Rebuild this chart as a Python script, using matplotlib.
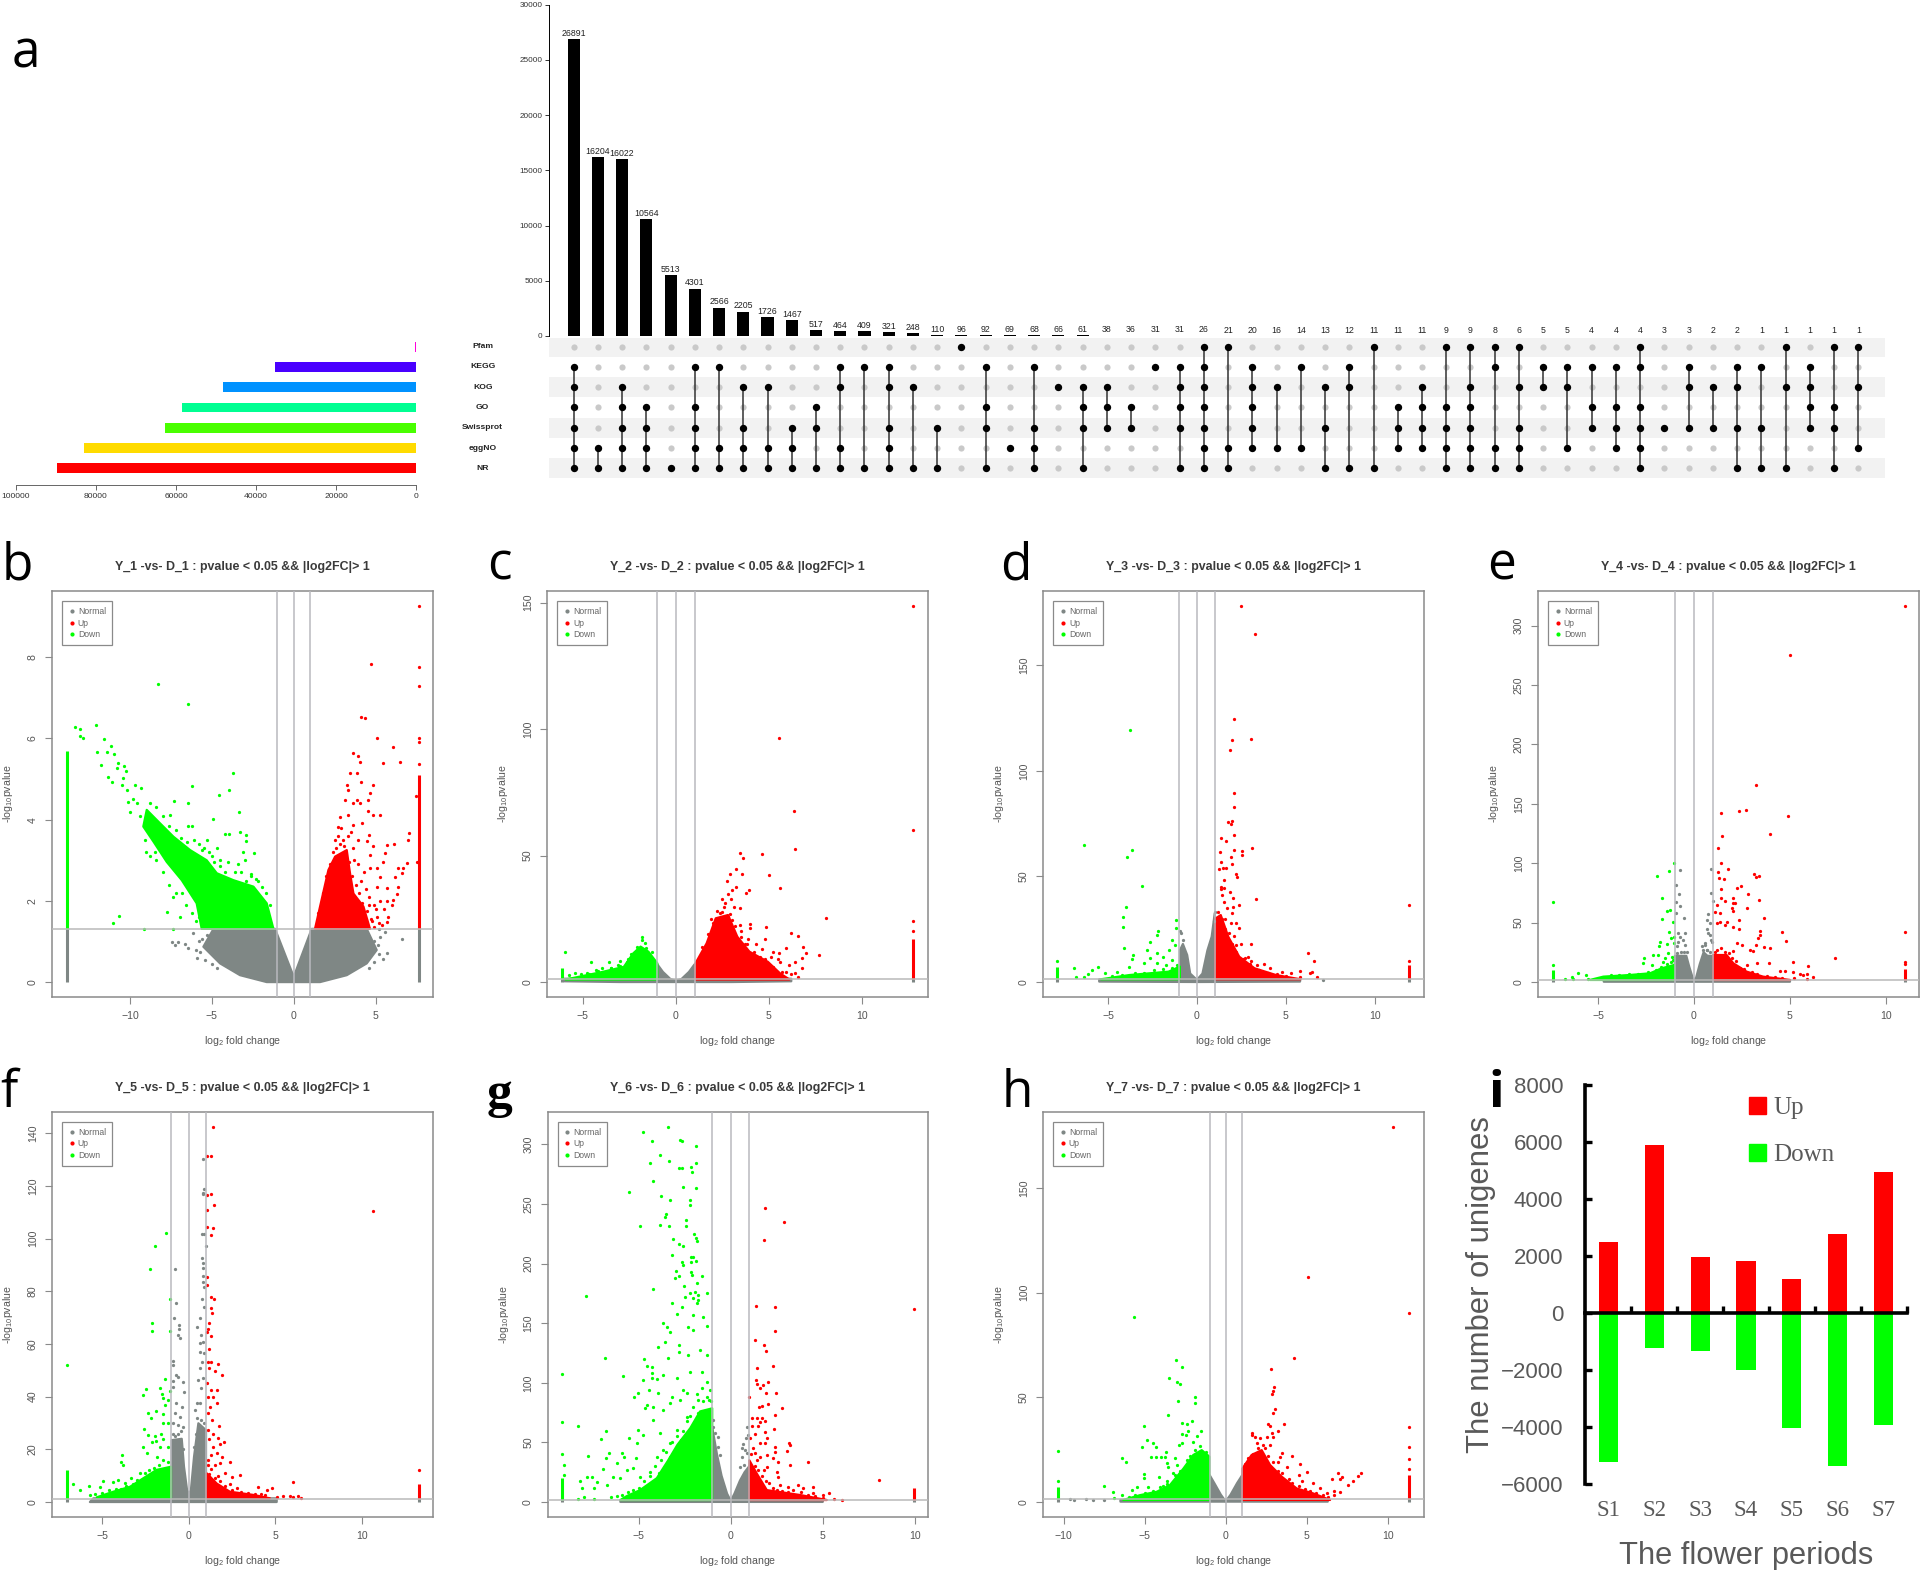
import matplotlib
matplotlib.use('Agg')
import matplotlib.pyplot as plt
from matplotlib.lines import Line2D
from matplotlib.patches import Polygon, Patch

plt.rcParams['font.family'] = ['Liberation Sans', 'DejaVu Sans']
plt.rcParams['mathtext.default'] = 'regular'

W, H = 1920, 1570
GRAY = '#7f8785'
RED = '#ff0000'
GREEN = '#00ff00'

# ---- panel a: annotation sets
set_names = ['NR', 'eggNO', 'Swissprot', 'GO', 'KOG', 'KEGG', 'Pfam']
set_sizes = [89825, 83080, 62750, 58580, 48170, 35250, 250]
set_colors = ['#FF0000', '#FFDB00', '#49FF00', '#00FF92', '#0092FF', '#4900FF', '#FF00DB']
intersection_sizes = [26891, 16204, 16022, 10564, 5513, 4301, 2566, 2205, 1726, 1467,
                      517, 464, 409, 321, 248, 110, 96, 92, 69, 68, 66, 61, 38, 36, 31, 31,
                      26, 21, 20, 16, 14, 13, 12, 11, 11, 11, 9, 9, 8, 6, 5, 5, 4, 4, 4,
                      3, 3, 2, 2, 1, 1, 1, 1, 1]
# Which sets each intersection column contains
P, K, O, G, S, E, N = 'Pfam', 'KEGG', 'KOG', 'GO', 'Swissprot', 'eggNO', 'NR'
memberships = [
    [K, O, G, S, E, N], [E, N], [O, G, S, E, N], [G, S, E, N], [N], [K, G, S, E, N],
    [K, E, N], [O, S, E, N], [O, E, N], [S, E, N], [G, S, N], [K, O, E, N], [K, N],
    [K, O, S, E, N], [O, N], [S, N], [P], [K, G, S, N], [E], [K, S, E, N], [O],
    [O, G, S, N], [O, G, S], [G, S], [K], [K, O, G, S, N], [P, K, O, G, S, E, N],
    [P, E, N], [K, O, G, S, E], [O, E], [K, E], [O, S, N], [K, O, N], [P, N], [G, S, E],
    [O, G, S, E], [P, G, S, E, N], [P, O, G, S, E, N], [P, K, E, N], [P, O, S, E, N],
    [K, O], [K, O, E], [K, G, S], [K, G, S, E], [P, K, G, S, E, N], [S], [K, O, S],
    [O, S], [K, O, S, N], [K, S, N], [P, O, N], [K, O, G, S], [P, G, S, N], [P, O, E],
]

# ---- panels b-h: volcano plots. Clouds are outlines of the solid regions,
# the point lists are the dots that can be told apart.
b_normal_cloud = [(-4.9, 1.31), (-1.14, 1.31), (0, .13), (1.1, 1.31), (4.46, 1.31), (5.07, .79), (4.46, .46),
                  (3.24, .17), (1.61, 0), (-1.65, 0), (-3.28, .17), (-4.5, .46), (-5.52, .87)]
b_up_cloud = [(1.3, 1.31), (1.61, 1.86), (2.12, 2.76), (2.53, 3.09), (3.24, 3.25), (3.44, 2.68), (3.65, 2.18),
              (4.26, 1.86), (4.66, 1.31)]
b_down_cloud = [(-1.24, 1.31), (-1.65, 1.94), (-2.46, 2.35), (-3.69, 2.51), (-4.7, 2.68), (-5.32, 3.0), (-6.33, 3.25),
                (-7.35, 3.58), (-8.17, 3.91), (-8.98, 4.24), (-9.19, 3.83), (-8.57, 3.46), (-7.76, 2.96), (-6.84, 2.51),
                (-5.93, 1.94), (-5.62, 1.31)]
b_normal = [(-7.45, .99), (-7.25, .91), (-7.05, .99), (-6.64, .95), (-6.44, .83), (-6.13, 1.2), (-5.72, .75),
            (6.6, 1.05), (5.68, .71), (5.48, .58), (5.58, 1.24), (5.17, .91), (-5.3, 1.15), (-5.6, 1.05), (-5.8, 1.0),
            (-6, .8), (-5.9, .6), (-5.4, .55), (-5, .45), (-4.7, .35), (5.2, 1.3), (5.3, 1.1), (4.9, 1.0), (5.2, .7),
            (4.9, .5), (4.6, .35)]
b_up = [(4.7, 7.84), (4.11, 6.53), (4.36, 6.5), (5.07, 6.0), (6.09, 5.8), (3.65, 5.65), (3.95, 5.57), (4.05, 5.43),
        (5.48, 5.39), (6.5, 5.41), (3.44, 5.14), (3.85, 5.14), (4.11, 4.92), (4.83, 4.85), (3.24, 4.85), (3.34, 4.73),
        (4.66, 4.65), (4.56, 4.48), (7.47, 4.58), (3.85, 4.48), (3.14, 4.48), (3.65, 4.4), (4.05, 4.4), (4.56, 4.22),
        (4.87, 4.11), (5.27, 4.11), (2.83, 4.07), (3.34, 4.11), (3.65, 3.87), (4.15, 3.91), (2.73, 3.83), (7.07, 3.66),
        (7.0, 3.5), (4.62, 3.62), (4.46, 3.48), (4.87, 3.35), (5.68, 3.37), (6.13, 3.39), (5.58, 3.17), (4.66, 3.13),
        (7.52, 2.96), (6.95, 2.92), (6.4, 2.82), (6.66, 2.82), (5.48, 2.96), (5.07, 2.8), (4.66, 2.8), (6.6, 2.68),
        (6.19, 2.58), (6.4, 2.35), (5.68, 2.31), (6.29, 2.18), (6.09, 2.02), (5.99, 1.9), (5.78, 1.61), (5.68, 1.49),
        (5.07, 2.35), (5.27, 2.59), (3.0, 3.5), (2.9, 3.8), (3.3, 3.6), (3.6, 3.3), (3.9, 2.9), (4.1, 2.5), (4.4, 2.3),
        (3.8, 2.4), (4.6, 2.1), (4.9, 1.9), (5.1, 1.6), (5.3, 2.0), (4.8, 1.5), (4.3, 2.7), (3.7, 3.0), (2.8, 3.4),
        (7.64, 5.36), (7.64, 5.9), (7.64, 6.0), (7.64, 7.28), (7.64, 7.75), (7.64, 9.25), (1.5, 1.7), (1.8, 2.2), (2.0, 2.6),
        (2.2, 2.9), (2.4, 3.2), (2.5, 3.5), (2.6, 3.3), (2.7, 3.6), (3.1, 3.35), (3.4, 2.95), (3.55, 2.6), (3.8, 2.05),
        (4.0, 2.2), (4.2, 1.95), (4.5, 1.75), (4.7, 1.55), (4.9, 1.35), (5.0, 1.8), (4.6, 1.9), (5.2, 1.45), (5.5, 1.8),
        (5.4, 1.4), (5.7, 2.0), (3.9, 3.5), (3.5, 3.7)]
b_down = [(-8.27, 7.35), (-6.44, 6.84), (-13.34, 6.29), (-13.05, 6.22), (-13.05, 6.06), (-12.9, 6.01), (-12.08, 6.32),
          (-11.6, 5.99), (-12.0, 5.66), (-11.38, 5.67), (-11.14, 5.82), (-10.96, 5.62), (-11.77, 5.34), (-11.32, 5.06),
          (-11.1, 4.93), (-10.71, 5.39), (-10.77, 5.26), (-10.37, 5.32), (-10.24, 5.2), (-10.45, 5.02), (-10.5, 4.85),
          (-10.2, 4.73), (-9.7, 4.85), (-9.33, 4.77), (-10.1, 4.44), (-3.69, 5.14), (-6.19, 4.83), (-3.95, 4.73),
          (-4.56, 4.61), (-7.33, 4.47), (-6.48, 4.42), (-3.32, 4.2), (-4.95, 4.02), (-7.56, 4.11), (-6.48, 3.85),
          (-6.23, 3.85), (-4.22, 3.65), (-3.93, 3.65), (-3.28, 3.69), (-2.93, 3.62), (-2.93, 3.48), (-2.42, 3.17),
          (-3.08, 3.2), (-10.69, 1.63), (-11.02, 1.46), (-7.72, 1.73), (-9.14, 1.31), (-7.35, 1.31), (-6.94, 1.61),
          (-7.35, 2.1), (-9.6, 4.4), (-9.4, 4.1), (-10.0, 4.2), (-9.8, 4.5), (-9.1, 3.5), (-8.8, 3.1), (-8.4, 3.0),
          (-8.0, 2.7), (-7.6, 2.4), (-7.2, 2.2), (-6.6, 1.9), (-6.2, 1.7), (-6.0, 2.6), (-5.5, 3.3), (-5.0, 3.1),
          (-4.5, 3.0), (-4.0, 2.95), (-3.4, 2.9), (-3.0, 3.0), (-2.6, 2.6), (-2.2, 2.5), (-5.3, 3.5), (-5.8, 3.4),
          (-4.7, 3.3), (-1.45, 1.9), (-1.7, 2.2), (-1.95, 2.35), (-2.3, 2.55), (-2.6, 2.65), (-2.9, 2.5), (-3.2, 2.7),
          (-3.6, 2.72), (-4.2, 2.7), (-4.5, 2.85), (-4.9, 2.95), (-5.2, 3.2), (-5.6, 3.25), (-6.1, 3.5), (-6.5, 3.45),
          (-6.9, 3.55), (-7.2, 3.75), (-7.6, 3.85), (-8.0, 4.1), (-8.4, 4.3), (-8.8, 4.4), (-6, 1.5), (-6.3, 2.2), (-6.8, 2.2),
          (-7.1, 2.7), (-7.5, 3.1), (-8, 3.2), (-8.5, 3.2), (-9, 3.2), (-5.8, 1.6)]
b_strips = (-13.87, 5.7, 7.64, 5.1)

c_normal_cloud = [(-6, 1.3), (-1, 1.3), (-1, 7), (-.7, 4), (-.3, 1.2), (0, .5), (.3, 1.2), (.7, 4), (1, 7), (1, 1.3),
                  (6.2, 1.3), (6.2, .3), (3, 0), (-3, 0), (-6, .3)]
c_up_cloud = [(1.05, 1), (1.05, 7.4), (1.65, 15.3), (2.14, 25.2), (2.8, 26.5), (3.3, 17.9), (3.95, 12), (4.94, 8),
              (5.6, 3.4), (6.1, 1)]
c_down_cloud = [(-1, 1), (-1, 7.4), (-1.48, 12), (-1.9, 14), (-2.3, 11.3), (-2.8, 6), (-3.95, 4), (-5.27, 2), (-5.93, 1)]
c_normal = []
c_up = [(12.76, 148.5), (5.53, 96.5), (6.35, 67.7), (12.76, 60), (6.41, 52.6), (3.42, 51.1), (4.6, 50.5), (3.62, 49.2),
        (3.22, 44.7), (5.0, 42.3), (3.55, 42.7), (2.9, 42.6), (2.73, 39.9), (5.59, 37), (3.95, 36.4), (3.78, 35.1),
        (8.06, 25.2), (12.76, 24.3), (12.76, 20.2), (6.18, 19.5), (6.55, 18.3), (4.84, 21.6), (4.0, 22.9), (4, 21.2),
        (3.45, 22.5), (4.78, 17), (6.85, 14), (6.98, 11.3), (7.67, 10.7), (6.75, 9.4), (6.42, 8), (6.75, 5.4), (6.42, 3.4),
        (6.58, 1.8), (5.92, 13.3), (5.53, 11.3), (5.1, 10), (5.6, 8), (6.1, 6.7), (2.63, 31.1), (2.96, 33), (2.47, 33),
        (3.22, 37.7), (3.03, 36.4), (2.8, 35), (2.57, 29.8), (3.13, 29.8), (3.45, 29.1), (2.37, 27.2), (2.8, 25.8),
        (1.98, 23.2), (3.03, 24.5), (3.5, 20), (3.9, 17), (4.3, 15), (4.6, 13), (3.7, 15), (5.2, 12), (5.5, 9), (5.9, 4),
        (6.2, 3), (1.4, 14), (1.7, 19), (1.9, 25), (2.2, 28), (2.5, 27.5), (2.9, 27), (3.2, 22), (3.5, 18), (3.8, 15),
        (4.2, 12), (4.5, 10), (4.8, 9), (5.2, 6), (5.7, 4)]
c_down = [(-5.96, 11.9), (-1.81, 17.9), (-1.81, 16.6), (-1.65, 15.3), (-2.04, 13.3), (-3.62, 7.8), (-4.55, 7.8),
          (-3.03, 8.4), (-3.13, 6.7), (-3.5, 5.4), (-2.63, 8), (-5.43, 3.4), (-4.77, 3.4), (-5.76, 2.8), (-4.28, 4.7),
          (-3.95, 5.4), (-1.3, 12), (-1.6, 13.5), (-2.1, 14), (-2.4, 11), (-2.6, 9), (-3, 6.5), (-3.5, 5.5), (-4.2, 4.5),
          (-4.7, 3), (-5.1, 3)]
c_strips = (-6.15, 5.7, 12.76, 17)

d_normal_cloud = [(-5.5, 1.3), (-.96, 1.3), (-.96, 15), (-.79, 18), (-.55, 12.8), (-.38, 4), (0, 1), (.31, 4), (.59, 15),
                  (.83, 21.5), (1, 32.5), (1.03, 1.3), (5.82, 1.3), (5.8, .2), (0, 0), (-5.5, .2)]
d_up_cloud = [(1.03, 1.3), (1.03, 30), (1.34, 31.7), (1.76, 21.5), (2.38, 12), (3.24, 6.5), (4.45, 3.3), (5.82, 1.3)]
d_down_cloud = [(-.96, 1.3), (-.96, 7.3), (-1.6, 4.9), (-3.8, 3.3), (-5.4, 1.3)]
d_normal = [(-.96, 24), (-.9, 23), (-.8, 20), (1, 33), (.95, 29), (7.1, .9)]
d_up = [(2.48, 178), (3.24, 164.8), (2.1, 124.7), (1.96, 114.6), (3.03, 115.3), (1.86, 109.7), (2.1, 89.4), (2.1, 83),
        (1.76, 76), (1.96, 76.3), (1.93, 75), (2.07, 69.8), (1.38, 68), (1.62, 66.8), (3.1, 63.3), (2.07, 62.5), (2.52, 62),
        (2.52, 60.2), (1.31, 61.4), (1.93, 59.4), (1.34, 57), (2, 55.9), (1.45, 53.8), (1.24, 53.4), (1.62, 53.8), (2.2, 51),
        (2.24, 49.6), (1.55, 48.3), (1.34, 45.2), (1.55, 44.4), (1.86, 42.8), (1.34, 44), (2.03, 39.6), (3.34, 39.5),
        (2.38, 36.5), (2.03, 35.7), (3.07, 17.8), (2.2, 27.8), (2.38, 25.4), (1.96, 32.5), (2.2, 17.5), (2.72, 11.2),
        (3.07, 10.1), (3.76, 8.5), (4.1, 6.5), (6.27, 13.9), (6.58, 10.1), (5.82, 5.4), (6.34, 4.1), (6.5, 4.9), (6.75, 2.2),
        (4.79, 4.9), (5.3, 4.1), (5.82, 2.5), (11.96, 36.5), (11.96, 9.8), (1.5, 38), (1.7, 35), (1.4, 41), (1.6, 30),
        (1.9, 28), (2.1, 22), (2.5, 18), (2.9, 12), (3.4, 8), (1.2, 33), (1.4, 30), (1.6, 25), (1.8, 23), (2, 18), (2.2, 14),
        (2.6, 11), (3, 8.5), (3.5, 5.5), (4, 4.5), (4.5, 4), (5, 3)]
d_down = [(-6.34, 65), (-3.76, 119.4), (-3.65, 62.7), (-3.96, 59), (-3.1, 45.6), (-4, 35.4), (-4.17, 30.6), (-4.17, 25.9),
          (-1.17, 29.4), (-1.17, 25.4), (-2.2, 24.3), (-2.27, 22.3), (-2.62, 19.1), (-1.41, 19.9), (-1.24, 17.5), (-4.1, 16.1),
          (-3.58, 12.8), (-3.65, 10.7), (-2.79, 15.2), (-2.27, 13.6), (-1.59, 15.2), (-1.93, 12), (-2.62, 11.2), (-1.41, 10.4),
          (-2.96, 8.8), (-2.27, 9.2), (-1.76, 8), (-3.82, 7.3), (-6.89, 6.6), (-5.55, 7), (-5.89, 5.7), (-6.13, 3.6),
          (-6.82, 2.5), (-6.34, 2.2), (-5.2, 4.1), (-4.5, 4.9), (-7.86, 10.1), (-1.1, 8), (-1.4, 6.5), (-1.9, 6), (-2.4, 5.5),
          (-3, 4.5), (-3.5, 4.5), (-4.2, 3.5), (-4.8, 3)]
d_strips = (-7.86, 6.9, 11.96, 8)

e_normal_cloud = [(-4.7, 1.3), (-1, 1.3), (-1, 22), (-.4, 22), (-.25, 13), (-.05, 2.5), (.1, 3), (.3, 15), (.5, 25),
                  (.7, 22), (1, 22), (1, 1.3), (5, 1.3), (5, .2), (-4.7, .2)]
e_up_cloud = [(1, 1.7), (1, 22.7), (1.7, 22.7), (2.05, 15.7), (2.74, 8.7), (3.6, 4.5), (5, 1.7)]
e_down_cloud = [(-1.04, 1.7), (-1.04, 14.3), (-1.68, 11.5), (-2.29, 7.3), (-3.33, 5.9), (-4.72, 4.5), (-5.42, 1.7)]
e_normal = [(-.73, 94), (.89, 95.4), (-.95, 82), (-.76, 73.8), (.87, 75), (.97, 68), (-.95, 67.4), (-.73, 64), (-.95, 57.8),
            (.75, 57.5), (-.52, 53.6), (.66, 52), (.83, 49.4), (.66, 45), (.75, 41), (-.82, 41.5), (-.47, 41.5), (-.73, 38),
            (-.56, 35), (-.82, 34), (.83, 39.6), (.57, 31), (.49, 27), (.92, 34), (-.47, 31), (-.9, 30), (-.38, 25.5),
            (.66, 27), (.89, 35.4), (-.9, 24), (-.7, 25), (-.5, 25), (.4, 30), (.55, 33), (.7, 27), (.85, 25)]
e_up = [(10.97, 316.3), (5, 275), (3.23, 166), (1.39, 142), (2.33, 144), (2.69, 145), (4.88, 139.5), (1.44, 122.6),
        (3.94, 124.6), (1.27, 113), (1.39, 100.5), (1.79, 95.4), (1.25, 92.6), (3.14, 90.7), (3.23, 88), (3.39, 89.5),
        (1.32, 87.6), (1.56, 87), (2.45, 81), (2.22, 79), (1.39, 78), (2.83, 74.4), (1.39, 71), (2.05, 70.7), (3.37, 69),
        (1.61, 68.5), (2.01, 66.8), (2.14, 66.8), (1.18, 64.6), (2.74, 62.3), (1.96, 62.6), (2.05, 59.8), (1.09, 59.2),
        (1.35, 57.8), (3.66, 53.6), (2.36, 52), (1.35, 50.8), (1.7, 50.8), (1.61, 48), (1.18, 49.4), (2.01, 46.6),
        (2.36, 44.6), (3.45, 43), (4.58, 41.8), (3.45, 39.6), (10.97, 42.4), (4.79, 34.5), (3.35, 36.8), (3.66, 29.7),
        (3.96, 28.6), (3.21, 31.2), (2.48, 31.2), (2.22, 32.6), (2.92, 27), (3.09, 26.4), (2.05, 26.4), (5.14, 17), (7.34, 20.2),
        (5.92, 13.2), (3.91, 15.7), (3.26, 15.7), (2.74, 14.3), (4.48, 9.3), (4.74, 9.3), (5.14, 8.7), (5.52, 6.5), (5.87, 6.5),
        (6.22, 3.9), (5.9, 2.8), (5.69, 5.9), (10.97, 17.1), (10.97, 14.9), (1.1, 25), (1.2, 27), (1.4, 29), (1.6, 25), (1.8, 24),
        (2, 20), (2.2, 18), (2.4, 12), (2.6, 11), (3, 8), (3.3, 7), (3.8, 5), (4.2, 4), (4.6, 3.5), (5.2, 3)]
e_down = [(-1.06, 100), (-1.3, 93.5), (-1.94, 89.3), (-1.68, 70.7), (-1.39, 59.8), (-1.25, 60.6), (-1.08, 50.2), (-1.65, 53),
          (-1.3, 41.8), (-1.04, 38.2), (-1.2, 36.8), (-1.77, 33.4), (-1.82, 30.3), (-1.39, 31.7), (-1.04, 32.6), (-1.86, 22.7),
          (-1.34, 24.1), (-2.15, 22.7), (-2.6, 19.9), (-2.64, 15.7), (-2.2, 14.3), (-1.16, 21.3), (-1.51, 20), (-1.6, 17),
          (-1.08, 18.5), (-6.02, 7.3), (-6.37, 4.5), (-5.63, 5.9), (-6.72, 2.2), (-6.28, 2.8), (-5.5, 2.8), (-7.36, 14.5),
          (-7.36, 67), (-1.2, 17), (-1.4, 15), (-1.7, 13), (-2, 10), (-2.4, 8.5), (-2.9, 7), (-3.4, 7), (-3.9, 6), (-4.3, 5.5)]
e_strips = (-7.36, 10, 10.97, 11)

f_normal_cloud = [(-.98, 1.4), (-.98, 23.5), (-.4, 24), (-.27, 13.4), (-.08, 3.9), (.12, 3.9), (.31, 17.2), (.56, 29.9),
                  (1, 27.3), (1, 1.4), (5.08, 1.4), (5.08, 0), (-5.7, 0), (-5.5, 1.4)]
f_up_cloud = [(1.04, 1.4), (1.04, 10.9), (1.62, 7), (2.38, 3.9), (3.73, 2.7), (4.69, 1.4)]
f_down_cloud = [(-1.02, 1.4), (-1.02, 13.4), (-1.85, 12.2), (-2.62, 9), (-3.38, 5.8), (-4.35, 3.9), (-5.3, 1.8)]
f_normal = [(.81, 130.4), (.88, 119), (.85, 117.5), (.81, 117), (.75, 101.6), (.88, 101.8), (.98, 97.3), (.77, 92.8),
            (.85, 90.9), (-.79, 88.6), (.85, 88.7), (.85, 86), (.81, 83.7), (.88, 81.8), (.75, 77.2), (-.73, 75.4), (.88, 73.9),
            (.65, 70), (-.85, 69.7), (.46, 66.6), (-.54, 67.2), (-.56, 65.6), (-.6, 63.4), (-.5, 62.4), (.71, 63.4), (.65, 60.3),
            (.85, 60.9), (.65, 57), (.88, 56.5), (-.88, 53.5), (-.88, 52), (.75, 53.3), (.65, 50.8), (-.73, 48.2), (-.6, 47.6),
            (.56, 46.3), (-.88, 46), (-.35, 45.7), (.85, 47), (-.88, 43.8), (.71, 43.2), (-.27, 41.6), (-.75, 37.5), (-.4, 36.2),
            (.46, 37.5), (.65, 37.5), (-.79, 33.7), (.37, 35), (-.88, 29.9), (-.5, 32.4), (-.31, 28.6), (-.6, 29.2), (-.8, 25),
            (-.6, 26), (-.45, 27), (.5, 32), (.7, 31), (.9, 30), (.4, 26), (.3, 21), (-.3, 20), (-.9, 26)]
f_up = [(1.38, 142.4), (1.06, 131.4), (1.29, 131.4), (1.29, 116.8), (1.08, 116.5), (1.44, 112.8), (1.04, 110.8), (10.65, 110.5),
        (1.08, 104.3), (1.42, 104), (1.29, 101.4), (1.08, 85.6), (1.08, 82.4), (1.29, 77.8), (1.48, 77), (1.27, 73.5), (1.35, 71.9),
        (1.17, 67.8), (1.12, 65.6), (1.08, 64.7), (1.27, 63), (1.17, 58), (1.1, 53.3), (1.27, 53.3), (1.67, 52.5), (1.19, 50.8),
        (1.52, 49.7), (1.9, 48.2), (1.08, 45), (1.27, 42.5), (1.65, 42.5), (1.13, 40), (1.42, 40), (1.65, 37.5), (1.23, 36.2),
        (1.13, 33.7), (1.33, 31.1), (1.77, 28.9), (1.13, 27.3), (1.42, 26), (1.71, 24.2), (2.04, 22.9), (1.81, 22), (1.42, 21),
        (1.62, 18.5), (1.9, 17.2), (2.38, 15), (1.81, 14.7), (2.1, 10.9), (2.96, 10.2), (2.48, 9.6), (2.38, 7), (2.77, 5.2),
        (4.02, 5.6), (4.79, 5.2), (4.5, 4.6), (6.04, 7.7), (13.27, 12.2), (5.46, 2.3), (5.85, 2.3), (6.33, 2.4), (6.48, 1.6),
        (6.04, 2), (5.08, 1.8), (1.2, 24), (1.3, 18), (1.1, 16), (1.5, 14), (1.3, 12.5), (1.7, 10), (1.1, 14), (1.2, 10.5),
        (1.5, 9), (1.8, 8), (2.1, 6), (2.5, 4.5), (3, 3.8), (3.4, 3.5), (3.8, 3.2), (4.2, 3), (4.4, 2.5)]
f_down = [(-1.31, 102), (-1.94, 97.3), (-2.23, 88.5), (-1.06, 77.2), (-2.13, 68), (-2.13, 64.8), (-1.08, 64.8), (-7.04, 51.9),
          (-1.35, 46.6), (-2.48, 42.8), (-2.62, 40.6), (-1.65, 43.2), (-1.08, 42.3), (-1.56, 41), (-1.17, 38.7), (-1.46, 39.4),
          (-1.37, 36.8), (-1.9, 34.7), (-2.37, 33.9), (-1.46, 33.4), (-2.19, 31.8), (-1.46, 30), (-1.17, 29.9), (-2.56, 27.6),
          (-2.33, 25.4), (-1.94, 25.2), (-1.62, 26), (-1.88, 23.3), (-1.46, 23.9), (-2.13, 22.9), (-2.65, 21), (-1.17, 21),
          (-1.65, 21), (-2.42, 18.5), (-1.85, 17.2), (-3.87, 17.8), (-3.92, 15), (-3.81, 14), (-3.35, 9), (-4.35, 7.7), (-4.92, 8),
          (-4.06, 8.4), (-6.69, 6.7), (-5.73, 6), (-6.27, 4.6), (-5.12, 5.8), (-3.67, 7.1), (-3, 8.4), (-2.81, 10.9), (-1.2, 15),
          (-1.5, 16), (-1.7, 14), (-2, 13), (-2.3, 12), (-2.5, 11), (-2.9, 8), (-3.2, 7), (-3.6, 6), (-3.9, 5), (-4.2, 5), (-4.6, 4.5),
          (-5, 3.5), (-5.4, 3), (-5.7, 2.5)]
f_strips = (-7.04, 12, 13.27, 7)

g_normal_cloud = [(-1, 1.5), (-1, 62), (-.75, 40), (-.5, 22), (-.2, 7), (0, 1), (.2, 7), (.5, 18), (.75, 25), (1, 30), (1, 1.5),
                  (5, 1.5), (5, .1), (-6, .1), (-6, 1.5)]
g_up_cloud = [(1.01, 1.7), (1.01, 35), (1.41, 24), (1.96, 10), (3.77, 5.9), (5.22, 1.7)]
g_down_cloud = [(-1.01, 1.7), (-1.01, 78.6), (-1.67, 76), (-2.2, 62), (-2.9, 48), (-3.4, 35), (-4.02, 20), (-4.93, 10),
                (-5.65, 5), (-6, 1.7)]
g_normal = [(.87, 63), (.96, 56), (.83, 53.4), (.69, 49), (.6, 45), (.78, 43.6), (.6, 38), (-.94, 68.8), (-.94, 63), (-.85, 57.6),
            (-.72, 54.8), (-.67, 46.4), (-.58, 39.4), (.87, 40.8), (.72, 31), (.51, 29.6)]
g_up = [(9.96, 161.6), (1.88, 246.3), (2.88, 234.6), (1.79, 219.5), (1.36, 164.4), (2.39, 163.5), (2.43, 143.7), (1.34, 135.6),
        (1.83, 131.4), (1.94, 126.6), (2.28, 114), (1.43, 112.1), (2.01, 100.6), (1.36, 102.3), (1.76, 98.1), (1.45, 98.7),
        (1.59, 95.3), (1.94, 91.7), (2.46, 91.7), (1.01, 87.8), (2.03, 81.9), (1.68, 80.8), (1.52, 80), (2.79, 79.1), (2.43, 73),
        (1.18, 70.2), (1.41, 70.2), (1.72, 70.2), (1.59, 67.4), (1.87, 68.2), (1.5, 64), (1.14, 63.7), (2.36, 60.9), (1.87, 59),
        (1.32, 57), (1.05, 54), (1.99, 53.4), (1.87, 49.2), (3.15, 49.8), (3.22, 47.8), (2.41, 46.4), (2.39, 42.2), (1.96, 39.4),
        (1.59, 49.2), (4.22, 33.3), (3.22, 31.3), (3.08, 43), (2.32, 36.6), (2.59, 33.8), (2.5, 25.4), (2.59, 21.2), (8.06, 18.5),
        (3.68, 14.3), (4.49, 12.3), (3.13, 12.3), (2.68, 14.3), (1.96, 29.6), (1.59, 38), (1.32, 40.8), (1.78, 26.8), (6.07, 2),
        (5.62, 2.8), (5.34, 7.3), (5.04, 5.9), (4.49, 7.3), (3.95, 11.5), (1.1, 40), (1.3, 30), (1.5, 27), (1.7, 22), (1.9, 18),
        (2.1, 16), (2.3, 12), (2.5, 10), (2.8, 9), (3.1, 8), (3.4, 10), (3.8, 8), (4.2, 6), (4.6, 5), (5, 3), (1.2, 45), (1.4, 35)]
g_down = [(-3.39, 314.5), (-4.75, 310.3), (-4.29, 302.8), (-2.75, 303.3), (-2.66, 303), (-1.88, 298.9), (-3.86, 291), (-4.37, 284.6),
          (-3.33, 285.7), (-1.88, 284), (-2.17, 281), (-2.79, 279.8), (-2.63, 279.8), (-2.1, 277), (-4.2, 268.9), (-2.61, 264.2),
          (-1.9, 263), (-5.51, 260), (-3.77, 256.4), (-2.21, 253), (-3.3, 253), (-2.21, 248.8), (-3.53, 242), (-3.57, 238.8),
          (-2.43, 236.2), (-4.95, 231.5), (-3.82, 232.3), (-3.35, 231.2), (-2.45, 231.2), (-1.99, 224.5), (-1.88, 221.1),
          (-1.85, 219.2), (-3.15, 220.9), (-2.84, 216.4), (-2.57, 214.7), (-3.17, 207.2), (-2.17, 205.2), (-2.07, 205.2),
          (-1.88, 202.4), (-2.63, 201), (-2.17, 201), (-2.57, 198.8), (-3.0, 194), (-2.16, 193.2), (-2.08, 190.4), (-1.59, 189.8),
          (-2.84, 189.5), (-3.03, 187.6), (-2.54, 181.4), (-1.85, 183.4), (-4.2, 178.6), (-1.3, 175.6), (-7.86, 172.5), (-1.94, 176.4),
          (-1.79, 173.6), (-2.21, 175), (-2.48, 171.6), (-2.03, 170.8), (-1.76, 169.4), (-1.85, 166.6), (-3.17, 166.6), (-2.66, 163.8),
          (-2.03, 156.8), (-2.93, 157.4), (-1.52, 154.9), (-3.71, 149.8), (-1.3, 147.9), (-2.3, 147), (-3.48, 147), (-3.3, 142.9),
          (-2.03, 144.3), (-3.57, 134.5), (-3.97, 130.3), (-2.84, 131.7), (-6.83, 121), (-2.79, 126), (-1.67, 127.5), (-3.39, 120.5),
          (-4.69, 119.7), (-2.3, 123.3), (-1.3, 123.3), (-4.57, 114), (-4.29, 113.5), (-9.18, 107.6), (-5.87, 105.4), (-4.29, 108.5),
          (-3.66, 106.5), (-2.93, 103.7), (-2.21, 109.3), (-1.58, 109.3), (-4.75, 102.3), (-4.29, 103.7), (-4.02, 102.9), (-4.42, 93.9),
          (-3.93, 91.1), (-5.02, 91.1), (-5.25, 88.3), (-4.57, 81.4), (-4.66, 78.6), (-4.24, 80), (-3.21, 88.3), (-3.3, 82.8),
          (-3.66, 77.2), (-4.2, 68.8), (-9.18, 67.1), (-8.33, 63.5), (-6.76, 59.3), (-7.07, 52.8), (-5.05, 60.4), (-5.53, 53.7),
          (-4.75, 56.2), (-5.11, 49.2), (-9.18, 40), (-7.77, 38.6), (-6.63, 40.8), (-6.78, 36.6), (-5.92, 40.8), (-5.83, 38),
          (-5.16, 36.6), (-6.2, 32.4), (-9.09, 31), (-6.96, 27.4), (-9.06, 22.9), (-8.19, 17.9), (-7.55, 21.2), (-7.79, 21.2),
          (-8.1, 11.5), (-7.28, 17), (-7.46, 11.5), (-7.95, 3.9), (-7.46, 2.8), (-8.33, 2.2), (-6.74, 14.3), (-6.38, 21.2), (-6.01, 19.8),
          (-5.65, 26.8), (-5.29, 28.2), (-4.93, 21.2), (-4.38, 25.4), (-4.02, 38), (-3.66, 43.6), (-3.3, 49.2), (-2.93, 60.4),
          (-3.84, 57.6), (-2.39, 71.6), (-2.03, 80), (-1.85, 91), (-1.58, 95.3), (-1.3, 100.9), (-1.12, 94), (-1.21, 85.5), (-1.76, 85.5),
          (-2.39, 91.1), (-2.75, 85.5), (-2.57, 93.9), (-2.2, 72), (-2.6, 60), (-2.9, 55), (-3.2, 50), (-3.5, 42), (-3.8, 35), (-4.1, 30),
          (-4.4, 22), (-4.7, 18), (-5, 12), (-5.3, 10), (-1.5, 85), (-1.3, 88), (-1.1, 85), (-1.8, 75), (-2.4, 68), (-2.7, 52), (-3, 44),
          (-3.3, 38), (-3.6, 30), (-3.9, 24), (-5.6, 8), (-5.9, 6), (-6.2, 5), (-6.5, 4)]
g_strips = (-9.18, 20, 9.96, 12)

h_normal_cloud = [(-6.5, 1), (-1, 1), (-1, 13), (-.7, 9), (-.3, 3.5), (0, .3), (.3, 3.5), (.7, 9), (1.03, 13), (1.03, 1), (6.3, 1),
                  (6.3, .2), (-6.5, .2)]
h_up_cloud = [(1.03, 1), (1.03, 16), (1.6, 22.5), (2.22, 24.8), (2.74, 17.7), (3.46, 12.1), (4.38, 6.5), (5.41, 4.1), (6.44, 1)]
h_down_cloud = [(-1.01, 1), (-1.01, 21.7), (-1.48, 24.8), (-2, 22.5), (-2.61, 16), (-3.44, 8.1), (-4.26, 4.9), (-5.29, 3.3), (-6.32, 1)]
h_normal = [(-9.6, 1.3), (-9.34, 1.1), (-8.62, 1.3), (-8.21, 1), (-7.51, 1)]
h_up = [(10.35, 179.1), (5.08, 107.5), (11.34, 90.3), (4.2, 68.6), (2.8, 63.7), (3, 54.9), (2.9, 53.2), (2.88, 51.4), (3.07, 44.3),
        (2.9, 42.5), (3.6, 37.4), (2.61, 37.1), (2.74, 36.5), (11.34, 36), (2.84, 33.1), (3.25, 33.9), (1.6, 33.1), (1.6, 32), (1.81, 31.2),
        (2.12, 30.4), (2.53, 30.9), (1.91, 28), (2.94, 31.2), (2.33, 27.2), (2.74, 27.2), (11.34, 26.3), (3.46, 23.2), (4.12, 22.1),
        (3.35, 21.7), (11.34, 20.7), (4.59, 18), (3.25, 19.3), (3.77, 16.9), (11.34, 15.9), (5.04, 14.5), (4.55, 12.9), (6.91, 13.7),
        (8.35, 13.7), (8.19, 12.4), (7.16, 12.1), (7.06, 10.8), (6.54, 10.8), (7.88, 9.9), (7.57, 8.1), (7.06, 4.6), (6.71, 5.4),
        (6.71, 3.3), (4.69, 10.2), (5.41, 8.9), (5.82, 6.5), (6.23, 4.1), (1.2, 18), (1.4, 21), (1.7, 23), (2, 26), (2.4, 26), (2.6, 22),
        (2.9, 19), (3.2, 15), (3.5, 14), (3.9, 11), (4.1, 9), (4.5, 7.5), (4.9, 6), (5.2, 5.5), (5.6, 4.5), (6, 3.5), (6.3, 2.5)]
h_down = [(-5.64, 88.4), (-3.09, 67.8), (-2.7, 64.6), (-3.48, 59.1), (-3, 57.3), (-2.82, 56.4), (-1.89, 50.2), (-1.89, 47.5), (-2.94, 48.4),
          (-3.54, 41.6), (-2.08, 38.7), (-2.67, 37.9), (-2.41, 37.3), (-5.06, 36.5), (-1.54, 33.9), (-2.3, 34.1), (-1.79, 31.7), (-2.72, 32.5),
          (-2.45, 32), (-4.88, 29.6), (-2.72, 28), (-2.86, 27.2), (-2, 28.8), (-4.47, 28), (-4.3, 26.1), (-5.14, 26.4), (-3.68, 24),
          (-10.37, 24.2), (-6.42, 21.2), (-6.17, 18.9), (-4.61, 21.7), (-4.32, 21.3), (-3.99, 21.7), (-3.74, 21.3), (-3.13, 20.9), (-3.6, 18.5),
          (-3.02, 17.7), (-3.54, 16.6), (-5.02, 13.2), (-5.02, 11.3), (-4.09, 12.1), (-3.23, 13.7), (-3.64, 10.2), (-7.51, 7.5), (-6.93, 4.8),
          (-5.8, 5.7), (-5.49, 7), (-4.77, 7), (-4.05, 7.3), (-6.87, 2.1), (-6.42, 3.3), (-10.37, 10), (-1.2, 24), (-1.6, 27), (-1.9, 25),
          (-2.2, 22), (-2.4, 20), (-2.8, 15), (-3.1, 13), (-3.6, 8.5), (-3.9, 7.5), (-4.5, 5.5), (-5, 4.5), (-5.6, 3.5), (-6, 2.5)]
h_strips = (-10.37, 7, 11.34, 13)

# ---- panel i
periods = ['S1', 'S2', 'S3', 'S4', 'S5', 'S6', 'S7']
up_counts = [2480, 5883, 1965, 1825, 1205, 2772, 4959]
down_counts = [-5240, -1216, -1333, -2000, -4047, -5380, -3918]


def axes_px(x0, x1, y0, y1):
    return fig.add_axes([x0 / W, 1 - y1 / H, (x1 - x0) / W, (y1 - y0) / H])


def volcano(rect, xlim, ylim, xticks, yticks, title, normal_cloud, up_cloud, down_cloud,
            normal, up, down, strips, threshold=1.301):
    x0, x1, y0, y1 = rect
    w, h = x1 - x0, y1 - y0
    ax = axes_px(x0, x1, y0, y1)
    ax.set_xlim(xlim)
    ax.set_ylim(ylim)
    for cloud, color in [(normal_cloud, GRAY), (up_cloud, RED), (down_cloud, GREEN)]:
        ax.add_patch(Polygon(cloud, closed=True, fc=color, ec=color, lw=1.6, joinstyle='round', zorder=2))
    for pts, color in [(normal, GRAY), (up, RED), (down, GREEN)]:
        if pts:
            xs, ys = zip(*pts)
            ax.scatter(xs, ys, s=5.5, c=color, linewidths=0, zorder=3)
    left_x, left_top, right_x, right_top = strips
    ax.plot([left_x, left_x], [0, threshold], color=GRAY, lw=2.2, solid_capstyle='butt', zorder=3)
    ax.plot([right_x, right_x], [0, threshold], color=GRAY, lw=2.2, solid_capstyle='butt', zorder=3)
    ax.plot([left_x, left_x], [threshold, left_top], color=GREEN, lw=2.2, solid_capstyle='butt', zorder=3)
    ax.plot([right_x, right_x], [threshold, right_top], color=RED, lw=2.2, solid_capstyle='butt', zorder=3)
    for v in (-1, 0, 1):
        ax.axvline(v, color='#b9b9bf', lw=1.1, zorder=4)
    ax.axhline(threshold, color='#b9b9b9', lw=1.1, zorder=4)
    for s in ax.spines.values():
        s.set_color('#8a8a8a')
        s.set_linewidth(1.1)
    ax.set_xticks(xticks)
    ax.set_yticks(yticks)
    ax.tick_params(length=5, width=.8, color='#8a8a8a', labelcolor='#555555', labelsize=7.6, pad=5.5)
    ax.tick_params(axis='y', labelrotation=90)
    for t in ax.get_yticklabels():
        t.set_va('center')
    ax.set_title(title, fontsize=8.9, fontweight='bold', color='#3a3a3a', pad=15)
    ax.set_xlabel('log$_2$ fold change', fontsize=7.6, color='#555555')
    ax.set_ylabel('-log$_{10}$pvalue', fontsize=7.6, color='#555555')
    ax.xaxis.set_label_coords(.5, -37 / h)
    ax.yaxis.set_label_coords(-37 / w, .5)
    handles = [Line2D([], [], ls='', marker='o', ms=3, mec='none', color=c) for c in (GRAY, RED, GREEN)]
    leg = ax.legend(handles, ['Normal', 'Up', 'Down'], loc='upper left', bbox_to_anchor=(10 / w, 1 - 10 / h),
                    borderaxespad=0, fancybox=False, framealpha=1, edgecolor='#8a8a8a', fontsize=6.2,
                    labelspacing=.3, borderpad=.7, handlelength=.8, handletextpad=.3, labelcolor='#666666')
    leg.get_frame().set_linewidth(.9)
    leg.set_zorder(6)
    return ax


fig = plt.figure(figsize=(W / 100, H / 100), dpi=100)

# row helper for panel a: NR sits on row 0, Pfam on row 6, one row is 20.27 px
row_lo, row_hi = (468.3 - 485) / 20.27, (468.3 - 338) / 20.27

# set size bars
ax_sets = axes_px(16, 416, 338, 485)
ax_sets.barh(range(7), set_sizes, height=.49, color=set_colors)
ax_sets.set_xlim(100000, 0)
ax_sets.set_ylim(row_lo, row_hi)
ax_sets.set_yticks([])
ax_sets.set_xticks([100000, 80000, 60000, 40000, 20000, 0])
ax_sets.tick_params(axis='x', length=3.5, width=.7, color='#666666', labelcolor='#333333', labelsize=6.1, pad=2)
for side in ('top', 'left', 'right'):
    ax_sets.spines[side].set_visible(False)
ax_sets.spines['bottom'].set_color('#666666')
ax_sets.spines['bottom'].set_linewidth(.7)
ax_sets.patch.set_alpha(0)

# intersection bars
n_cols = len(intersection_sizes)
col_lo, col_hi = (549 - 573.6) / 24.24, (1885 - 573.6) / 24.24
ax_bars = axes_px(549, 1885, 4.7, 336)
ax_bars.bar(range(n_cols), intersection_sizes, width=.5, color='black')
for i, v in enumerate(intersection_sizes):
    ax_bars.text(i, v + 110, str(v), ha='center', va='bottom', fontsize=6.3, color='#222222')
ax_bars.set_xlim(col_lo, col_hi)
ax_bars.set_ylim(0, 30000)
ax_bars.set_xticks([])
ax_bars.set_yticks(range(0, 30001, 5000))
ax_bars.tick_params(axis='y', length=3, width=.7, labelsize=5.9, pad=1.5, color='#333333', labelcolor='#333333')
for side in ('top', 'bottom', 'right'):
    ax_bars.spines[side].set_visible(False)
ax_bars.spines['left'].set_linewidth(.7)

# membership matrix
ax_matrix = axes_px(549, 1885, 338, 485)
ax_matrix.set_xlim(col_lo, col_hi)
ax_matrix.set_ylim(row_lo, row_hi)
ax_matrix.axis('off')
for r in (0, 2, 4, 6):
    ax_matrix.axhspan(r - .5, r + .5, color='#f2f2f2', lw=0, zorder=0)
for r, name in enumerate(set_names):
    ax_matrix.text(-3.75, r, name, ha='center', va='center', fontsize=6.1, fontweight='bold', color='#222222', clip_on=False)
for i, members in enumerate(memberships):
    rows = [set_names.index(m) for m in members]
    ax_matrix.scatter([i] * 7, range(7), s=20, c='#c9c9c9', linewidths=0, zorder=1)
    if len(rows) > 1:
        ax_matrix.plot([i, i], [min(rows), max(rows)], color='#333333', lw=1.1, zorder=2)
    ax_matrix.scatter([i] * len(rows), rows, s=28, c='black', linewidths=0, zorder=3)

# volcano panels
volcano((52.3, 433, 591, 996.7), (-14.75, 8.51), (-.36, 9.63), [-10, -5, 0, 5], [0, 2, 4, 6, 8],
        'Y_1 -vs- D_1 : pvalue < 0.05 && |log2FC|> 1',
        b_normal_cloud, b_up_cloud, b_down_cloud, b_normal, b_up, b_down, b_strips)
volcano((547.4, 928.2, 591, 996.7), (-6.91, 13.56), (-5.8, 154.6), [-5, 0, 5, 10], [0, 50, 100, 150],
        'Y_2 -vs- D_2 : pvalue < 0.05 && |log2FC|> 1',
        c_normal_cloud, c_up_cloud, c_down_cloud, c_normal, c_up, c_down, c_strips)
volcano((1043.4, 1423.7, 591, 996.7), (-8.64, 12.76), (-6.96, 185.2), [-5, 0, 5, 10], [0, 50, 100, 150],
        'Y_3 -vs- D_3 : pvalue < 0.05 && |log2FC|> 1',
        d_normal_cloud, d_up_cloud, d_down_cloud, d_normal, d_up, d_down, d_strips)
volcano((1538.3, 1919, 591, 996.7), (-8.11, 11.72), (-12.4, 329.2), [-5, 0, 5, 10], [0, 50, 100, 150, 200, 250, 300],
        'Y_4 -vs- D_4 : pvalue < 0.05 && |log2FC|> 1',
        e_normal_cloud, e_up_cloud, e_down_cloud, e_normal, e_up, e_down, e_strips)
volcano((52.3, 433, 1111.7, 1516.7), (-7.87, 14.1), (-5.58, 148.2), [-5, 0, 5, 10], [0, 20, 40, 60, 80, 100, 120, 140],
        'Y_5 -vs- D_5 : pvalue < 0.05 && |log2FC|> 1',
        f_normal_cloud, f_up_cloud, f_down_cloud, f_normal, f_up, f_down, f_strips)
volcano((547.7, 928, 1111.7, 1516.7), (-9.95, 10.72), (-12.3, 327.4), [-5, 0, 5, 10], [0, 50, 100, 150, 200, 250, 300],
        'Y_6 -vs- D_6 : pvalue < 0.05 && |log2FC|> 1',
        g_normal_cloud, g_up_cloud, g_down_cloud, g_normal, g_up, g_down, g_strips)
volcano((1043.3, 1424, 1111.7, 1516.7), (-11.26, 12.24), (-7.0, 186.5), [-10, -5, 0, 5, 10], [0, 50, 100, 150],
        'Y_7 -vs- D_7 : pvalue < 0.05 && |log2FC|> 1',
        h_normal_cloud, h_up_cloud, h_down_cloud, h_normal, h_up, h_down, h_strips)

# panel i
ax_i = axes_px(1585.3, 1906.7, 1085, 1484)
ax_i.bar(range(7), up_counts, width=.414, color=RED, zorder=2)
ax_i.bar(range(7), down_counts, width=.414, color=GREEN, zorder=2)
ax_i.set_xlim(-.5, 6.5)
ax_i.set_ylim(-6000, 8000)
ax_i.set_yticks(range(-6000, 8001, 2000))
ax_i.set_yticklabels(['\u22126000', '\u22124000', '\u22122000', '0', '2000', '4000', '6000', '8000'])
ax_i.set_xticks([i + .5 for i in range(7)])
ax_i.set_xticklabels([])
ax_i.tick_params(axis='y', direction='in', length=5, width=2.4, labelsize=16, labelcolor='#595959', pad=16)
ax_i.tick_params(axis='x', direction='in', length=5, width=2.4)
for side in ('top', 'right'):
    ax_i.spines[side].set_visible(False)
ax_i.spines['bottom'].set_position(('data', 0))
ax_i.spines['bottom'].set_linewidth(2.6)
ax_i.spines['bottom'].set_zorder(3)
ax_i.spines['left'].set_linewidth(2.6)
for i, label in enumerate(periods):
    ax_i.text(i, -6926, label, ha='center', va='center', fontsize=16.5, color='#595959',
              family=['Liberation Serif', 'DejaVu Serif'], clip_on=False)
ax_i.set_xlabel('The flower periods', fontsize=22.2, color='#595959')
ax_i.set_ylabel('The number of unigenes', fontsize=22.3, color='#595959')
ax_i.xaxis.set_label_coords(.5, -57 / 399)
ax_i.yaxis.set_label_coords(-89 / 321.4, .5)
ax_i.legend([Patch(color=RED), Patch(color=GREEN)], ['Up', 'Down'], loc='upper left',
            bbox_to_anchor=(164 / 321.4, 1 - 12 / 399), borderaxespad=0, frameon=False,
            prop={'family': ['Liberation Serif', 'DejaVu Serif'], 'size': 18}, labelcolor='#595959',
            handlelength=.65, handleheight=.65, handletextpad=.3, labelspacing=1.0, borderpad=0)

# panel letters
letters = [('a', 12, 67), ('b', 2, 579), ('c', 487, 579), ('d', 1000, 579), ('e', 1487, 579),
           ('f', 0, 1107), ('g', 487, 1107), ('h', 1002, 1107), ('i', 1488, 1107)]
for letter, px, py in letters:
    family = ['Liberation Serif'] if letter == 'g' else ['Open Sans']
    fig.text(px / W, 1 - py / H, letter, fontsize=37, color='black', ha='left', va='baseline', family=family,
             fontweight='bold' if letter in 'gi' else 'normal')

fig.savefig('out.png', dpi=100)
